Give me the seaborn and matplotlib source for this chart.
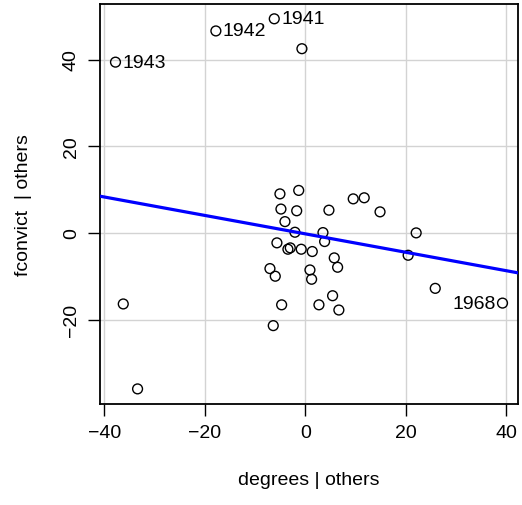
import numpy as np
import pandas as pd
import matplotlib
matplotlib.use("Agg")
import matplotlib.pyplot as plt
import seaborn as sns

# residuals (added-variable plot)
degrees = [-5.04, -1.3, -4.84, -1.7, 9.56, 11.75, 4.72, 14.9, -4.04, -2.05,
           3.53, 3.86, 22.1, -5.64, -3.45, -2.98, -0.8, 1.4, 20.5, 5.78,
           6.45, -7.03, 0.94, -5.97, 1.27, 5.45, -4.7, 2.73, 6.7, -6.37,
           25.9, 39.3, -36.25, -33.4, -37.8, -17.8, -6.17, -0.66]
fconvict = [9.0, 9.8, 5.5, 5.1, 7.85, 8.1, 5.24, 4.85, 2.6, 0.15,
            0.07, -2.0, 0.0, -2.3, -3.77, -3.46, -3.77, -4.3, -5.16, -5.77,
            -7.93, -8.24, -8.55, -10.0, -10.7, -14.5, -16.6, -16.6, -17.8, -21.4,
            -12.8, -16.2, -16.4, -36.0, 39.4, 46.6, 49.4, 42.5]
labels = ["", "", "", "", "", "", "", "", "", "",
          "", "", "", "", "", "", "", "", "", "",
          "", "", "", "", "", "", "", "", "", "",
          "", "1968", "", "", "1943", "1942", "1941", ""]
label_side = {"1968": "left", "1943": "right", "1942": "right", "1941": "right"}

xticks = [-40, -20, 0, 20, 40]
yticks = [-20, 0, 20, 40]

df = pd.DataFrame({"degrees": degrees, "fconvict": fconvict, "label": labels})

sns.set_style("white")
plt.rcParams["font.family"] = ["Liberation Sans", "DejaVu Sans"]
plt.rcParams["text.color"] = "black"
plt.rcParams["axes.labelcolor"] = "black"
plt.rcParams["xtick.color"] = "black"
plt.rcParams["ytick.color"] = "black"
fs = 14

fig = plt.figure(figsize=(5.22, 5.06), dpi=100)
ax = fig.add_axes([100 / 522, 1 - 404.7 / 506, 418 / 522, 399.7 / 506])

# R-style 4% expansion
xr = df["degrees"].max() - df["degrees"].min()
yr = df["fconvict"].max() - df["fconvict"].min()
ax.set_xlim(df["degrees"].min() - 0.04 * xr, df["degrees"].max() + 0.04 * xr)
ax.set_ylim(df["fconvict"].min() - 0.04 * yr, df["fconvict"].max() + 0.04 * yr)

ax.set_xticks(xticks)
ax.set_yticks(yticks)
ax.set_xticklabels([str(t).replace("-", "\u2212") for t in xticks], fontsize=fs, color="black")
ax.set_yticklabels([str(t).replace("-", "\u2212") for t in yticks], fontsize=fs,
                   rotation=90, va="center", color="black")
ax.grid(True, color="#D3D3D3", linewidth=1.0)
ax.set_axisbelow(True)

sns.scatterplot(data=df, x="degrees", y="fconvict", ax=ax, marker="o",
                facecolor="none", edgecolor="black", linewidth=1.0, s=50, zorder=3)
sns.regplot(data=df, x="degrees", y="fconvict", ax=ax, scatter=False, ci=None,
            truncate=False, line_kws={"color": "#0000FF", "linewidth": 2.3, "zorder": 4})

for _, r in df[df["label"] != ""].iterrows():
    side = label_side[r["label"]]
    off = 5 if side == "right" else -5
    ha = "left" if side == "right" else "right"
    ax.annotate(r["label"], (r["degrees"], r["fconvict"]), xytext=(off, 0),
                textcoords="offset points", ha=ha, va="center", fontsize=fs,
                color="black")

ax.set_xlabel("degrees | others", fontsize=fs, labelpad=22, color="black")
ax.set_ylabel("fconvict  | others", fontsize=fs, labelpad=22, color="black")

for s in ax.spines.values():
    s.set_color("black")
    s.set_linewidth(1.3)
ax.tick_params(axis="both", direction="out", length=8.5, width=1.0, color="black",
               left=True, bottom=True, pad=6, labelsize=fs, labelcolor="black")

fig.savefig("out.png", dpi=100, facecolor="white")
